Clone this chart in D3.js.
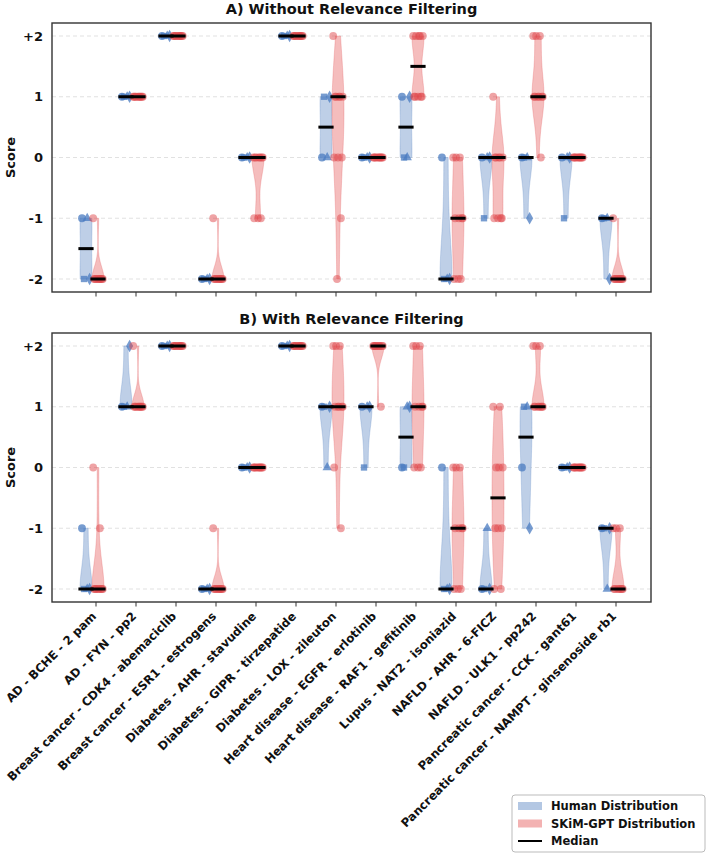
<!DOCTYPE html>
<html>
<head>
<meta charset="UTF-8">
<title>Violin</title>
<style>
  body { margin: 0; background: #fff; }
  svg text { font-family: "DejaVu Sans", sans-serif; font-weight: bold; fill: #111; }
</style>
</head>
<body>
<script src="https://d3js.org/d3.v7.min.js"></script>
<script>
// categories on the x axis
const categories = [
  "AD - BCHE - 2 pam", "AD - FYN - pp2", "Breast cancer - CDK4 - abemaciclib",
  "Breast cancer - ESR1 - estrogens", "Diabetes - AHR - stavudine", "Diabetes - GIPR - tirzepatide",
  "Diabetes - LOX - zileuton", "Heart disease - EGFR - erlotinib", "Heart disease - RAF1 - gefitinib",
  "Lupus - NAT2 - isoniazid", "NAFLD - AHR - 6-FICZ", "NAFLD - ULK1 - pp242",
  "Pancreatic cancer - CCK - gant61", "Pancreatic cancer - NAMPT - ginsenoside rb1"
];
const yTicks = [2, 1, 0, -1, -2];
const yTickLabels = ["+2", "1", "0", "-1", "-2"];
// human raters, one marker each: circle, square, triangle, diamond
const raterMarkers = ["circle", "square", "triangle", "diamond"];

// A) without relevance filtering
const humanA = [
  [-1, -2, -1, -2], [1, 1, 1, 1], [2, 2, 2, 2], [-2, -2, -2, -2], [0, 0, 0, 0], [2, 2, 2, 2],
  [0, 1, 0, 1], [0, 0, 0, 0], [1, 0, 0, 1], [0, -2, -2, -2], [0, -1, 0, 0], [0, 0, 0, -1],
  [0, -1, 0, 0], [-1, -1, -1, -2]
];
const gptA = [
  [-1, -2, -2, -2, -2, -2, -2, -2, -2, -2],
  [1, 1, 1, 1, 1, 1, 1, 1, 1, 1],
  [2, 2, 2, 2, 2, 2, 2, 2, 2, 2],
  [-1, -2, -2, -2, -2, -2, -2, -2, -2, -2],
  [0, 0, 0, 0, 0, 0, 0, -1, -1, -1],
  [2, 2, 2, 2, 2, 2, 2, 2, 2, 2],
  [2, 1, 1, 1, 1, 1, 0, 0, 0, -1, -2],
  [0, 0, 0, 0, 0, 0, 0, 0, 0, 0],
  [2, 2, 2, 2, 2, 1, 1, 1, 1, 1],
  [0, 0, 0, -1, -1, -1, -1, -2, -2, -2],
  [1, 0, 0, 0, 0, 0, -1, -1, -1, -1],
  [2, 2, 2, 1, 1, 1, 1, 1, 1, 0],
  [0, 0, 0, 0, 0, 0, 0, 0, 0, 0],
  [-1, -2, -2, -2, -2, -2, -2, -2, -2, -2]
];

// B) with relevance filtering
const humanB = [
  [-1, -2, -2, -2], [1, 1, 1, 2], [2, 2, 2, 2], [-2, -2, -2, -2], [0, 0, 0, 0], [2, 2, 2, 2],
  [1, 1, 0, 1], [1, 0, 1, 1], [0, 0, 1, 1], [0, -2, -2, -2], [-2, -2, -1, -2], [0, 1, 1, -1],
  [0, 0, 0, 0], [-1, -1, -2, -1]
];
const gptB = [
  [0, -1, -2, -2, -2, -2, -2, -2, -2, -2],
  [2, 1, 1, 1, 1, 1, 1, 1, 1, 1],
  [2, 2, 2, 2, 2, 2, 2, 2, 2, 2],
  [-1, -2, -2, -2, -2, -2, -2, -2, -2, -2],
  [0, 0, 0, 0, 0, 0, 0, 0, 0, 0],
  [2, 2, 2, 2, 2, 2, 2, 2, 2, 2],
  [2, 2, 2, 1, 1, 1, 1, 1, 0, -1],
  [2, 2, 2, 2, 2, 2, 2, 2, 2, 1],
  [2, 2, 2, 1, 1, 1, 1, 0, 0, 0],
  [0, 0, 0, -1, -1, -1, -1, -2, -2, -2],
  [1, 1, 0, 0, 0, -1, -1, -1, -2, -2],
  [2, 2, 2, 1, 1, 1, 1, 1, 1, 1],
  [0, 0, 0, 0, 0, 0, 0, 0, 0, 0],
  [-1, -1, -1, -2, -2, -2, -2, -2, -2, -2]
];

const W = 708, H = 855;
const blue = "#4a7bc0", red = "#e0474c";
const blueFill = "#b3c7e3", redFill = "#f3b2b2";

const svg = d3.select("body").append("svg").attr("width", W).attr("height", H);

const left = 52, right = 651;
const x = d3.scaleLinear().domain([-1.1, 13.875]).range([left, right]);
const humanShift = -0.25, gptShift = 0.05, halfW = 0.15;

// gaussian kde, scott's rule, like matplotlib's violinplot
function kde(vals) {
  const n = vals.length, mean = d3.mean(vals);
  const sd = Math.sqrt(d3.sum(vals, v => (v - mean) ** 2) / (n - 1)) * Math.pow(n, -0.2);
  const lo = d3.min(vals), hi = d3.max(vals);
  const pts = d3.range(100).map(k => lo + (hi - lo) * k / 99);
  const dens = pts.map(t => d3.mean(vals, v => Math.exp(-0.5 * ((t - v) / sd) ** 2)));
  const m = d3.max(dens);
  return pts.map((t, k) => [t, dens[k] / m]);
}

function symbolOf(name) {
  return { circle: d3.symbolCircle, square: d3.symbolSquare, triangle: d3.symbolTriangle, diamond: d3.symbolDiamond }[name];
}
const symSize = { circle: 48, square: 40, triangle: 38, diamond: 44 };
const raterOffset = [-0.1, -0.05, 0.03, 0.09];

function panel(top, bottom, title, human, gpt, showLabels) {
  const y = d3.scaleLinear().domain([-2.214, 2.214]).range([bottom, top]);
  const g = svg.append("g");

  g.append("text").attr("x", (left + right) / 2).attr("y", top - 9.5)
    .attr("text-anchor", "middle").attr("font-size", 14.5).text(title);

  // grid
  g.selectAll(".grid").data(yTicks).enter().append("line")
    .attr("x1", left).attr("x2", right)
    .attr("y1", d => y(d)).attr("y2", d => y(d))
    .attr("stroke", "#d9d9d9").attr("stroke-width", 0.8).attr("stroke-dasharray", "4,3");

  g.selectAll(".ytl").data(yTicks).enter().append("text")
    .attr("x", left - 9).attr("y", d => y(d)).attr("dy", "0.36em")
    .attr("text-anchor", "end").attr("font-size", 13)
    .text((d, i) => yTickLabels[i]);

  g.append("text").attr("transform", `translate(15,${(top + bottom) / 2}) rotate(-90)`)
    .attr("text-anchor", "middle").attr("font-size", 13).text("Score");

  // x ticks
  g.selectAll(".xt").data(categories).enter().append("line")
    .attr("x1", (d, i) => x(i)).attr("x2", (d, i) => x(i))
    .attr("y1", bottom).attr("y2", bottom + 4.5)
    .attr("stroke", "#333").attr("stroke-width", 1);

  if (showLabels) {
    g.selectAll(".xl").data(categories).enter().append("text")
      .attr("transform", (d, i) => `translate(${x(i) + 1},${bottom + 15}) rotate(-45)`)
      .attr("text-anchor", "end").attr("font-size", 11.8).text(d => d);
  }

  function violin(vals, center, fill, edge) {
    if (d3.deviation(vals) === 0 || vals.length < 2) return;
    const prof = kde(vals);
    const path = d3.area()
      .x0(p => x(center - halfW * p[1])).x1(p => x(center + halfW * p[1]))
      .y(p => y(p[0]));
    g.append("path").attr("d", path(prof))
      .attr("fill", fill).attr("fill-opacity", 0.85)
      .attr("stroke", edge).attr("stroke-opacity", 0.25).attr("stroke-width", 1);
  }

  categories.forEach((c, i) => {
    violin(human[i], i + humanShift, blueFill, blue);
    violin(gpt[i], i + gptShift, redFill, red);
  });

  // points
  categories.forEach((c, i) => {
    human[i].forEach((v, r) => {
      const m = raterMarkers[r];
      g.append("path")
        .attr("d", d3.symbol().type(symbolOf(m)).size(symSize[m])())
        .attr("transform", `translate(${x(i + humanShift + raterOffset[r])},${y(v)})`)
        .attr("fill", blue).attr("fill-opacity", 0.75);
    });
    gpt[i].forEach((v, k) => {
      const off = (((k * 7) % 11) / 10 - 0.5) * 0.24;
      g.append("circle")
        .attr("cx", x(i + gptShift + off)).attr("cy", y(v)).attr("r", 3.9)
        .attr("fill", red).attr("fill-opacity", 0.5);
    });
  });

  // medians
  categories.forEach((c, i) => {
    [[human[i], humanShift], [gpt[i], gptShift]].forEach(([vals, s]) => {
      const md = d3.median(vals);
      g.append("line")
        .attr("x1", x(i + s - 0.19)).attr("x2", x(i + s + 0.19))
        .attr("y1", y(md)).attr("y2", y(md))
        .attr("stroke", "#000").attr("stroke-width", 3);
    });
  });

  g.append("rect").attr("x", left).attr("y", top)
    .attr("width", right - left).attr("height", bottom - top)
    .attr("fill", "none").attr("stroke", "#333").attr("stroke-width", 1.4);
}

panel(23, 292, "A) Without Relevance Filtering", humanA, gptA, false);
panel(333, 602, "B) With Relevance Filtering", humanB, gptB, true);

// legend
const lg = svg.append("g").attr("transform", "translate(512,795)");
lg.append("rect").attr("width", 193).attr("height", 57).attr("rx", 3)
  .attr("fill", "#fff").attr("stroke", "#bbb").attr("stroke-width", 1);
const legendItems = ["Human Distribution", "SKiM-GPT Distribution", "Median"];
legendItems.forEach((t, k) => {
  const cy = 11 + k * 17.5;
  if (k < 2) {
    lg.append("rect").attr("x", 6).attr("y", cy - 4).attr("width", 24).attr("height", 8)
      .attr("fill", k === 0 ? blueFill : redFill);
  } else {
    lg.append("line").attr("x1", 6).attr("x2", 30).attr("y1", cy).attr("y2", cy)
      .attr("stroke", "#000").attr("stroke-width", 2);
  }
  lg.append("text").attr("x", 39).attr("y", cy).attr("dy", "0.36em")
    .attr("font-size", 11.5).text(t);
});
</script>
</body>
</html>
